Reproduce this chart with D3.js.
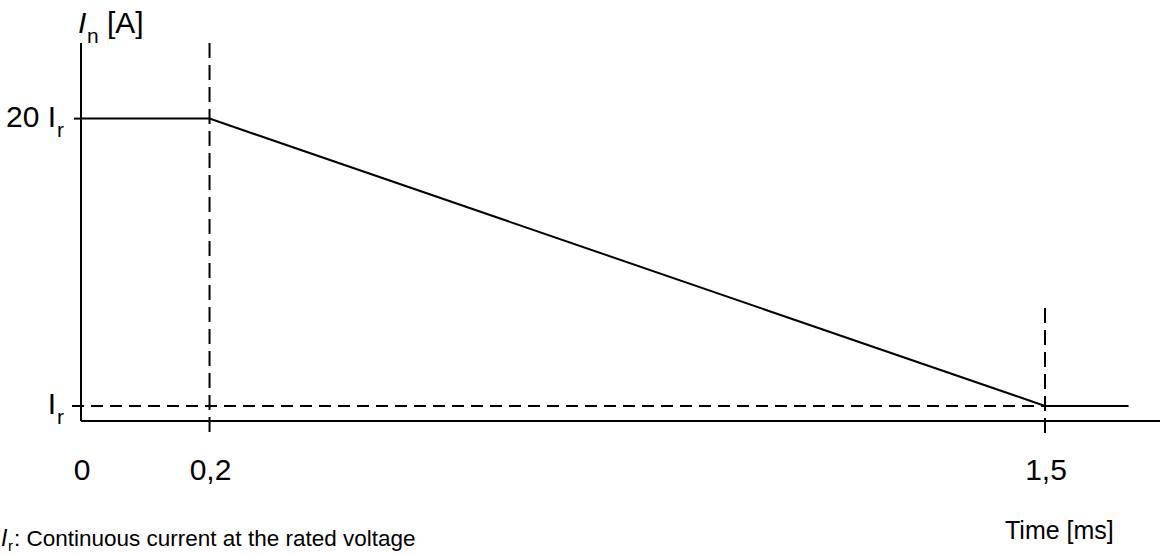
<!DOCTYPE html>
<html><head><meta charset="utf-8">
<script src="https://cdn.jsdelivr.net/npm/d3@7"></script>
<style>body{margin:0;background:#fff}svg{display:block}text{font-family:"Liberation Sans",Arial,sans-serif;fill:#000}</style>
</head><body>
<script>
// data
const times = [0, 0.2, 1.5, 1.63];
const currents = [20, 20, 1, 1];
const xTickValues = [0, 0.2, 1.5];
const xTickLabels = ["0", "0,2", "1,5"];
const yTickValues = [20, 1];
const yTickPrefix = ["20 I", "I"];
const yTickSub = ["r", "r"];

const W = 1160, H = 556;
const svg = d3.select("body").append("svg").attr("width", W).attr("height", H);
const x = d3.scaleLinear().domain([0, 1.5]).range([81, 1045]);
const y = d3.scaleLinear().domain([0, 25]).range([421, 43]);

const g = svg.append("g");
// axes lines
g.append("line").attr("x1", x(0)).attr("x2", x(0)).attr("y1", y(25)).attr("y2", y(0)).attr("stroke", "#000").attr("stroke-width", 2);
g.append("line").attr("x1", x(0)).attr("x2", W).attr("y1", y(0)).attr("y2", y(0)).attr("stroke", "#000").attr("stroke-width", 2);

// dashed verticals
g.append("line").attr("x1", x(0.2)).attr("x2", x(0.2)).attr("y1", y(25)).attr("y2", y(0) + 12)
  .attr("stroke", "#000").attr("stroke-width", 2).attr("stroke-dasharray", "15,7");
g.append("line").attr("x1", x(1.5)).attr("x2", x(1.5)).attr("y1", y(0) + 12).attr("y2", y(7.7))
  .attr("stroke", "#000").attr("stroke-width", 2).attr("stroke-dasharray", "15,7");
// dashed horizontal at Ir
g.append("line").attr("x1", x(0) - 9).attr("x2", x(1.5)).attr("y1", y(1)).attr("y2", y(1))
  .attr("stroke", "#000").attr("stroke-width", 2).attr("stroke-dasharray", "12,7");
// tick at 20 Ir
g.append("line").attr("x1", x(0) - 7).attr("x2", x(0)).attr("y1", y(20)).attr("y2", y(20)).attr("stroke", "#000").attr("stroke-width", 2);

// curve
const line = d3.line().x((d, i) => x(times[i])).y((d, i) => y(currents[i]));
g.append("path").datum(currents).attr("d", line).attr("fill", "none").attr("stroke", "#000").attr("stroke-width", 2);

// x tick labels
g.selectAll(".xt").data(xTickValues).enter().append("text")
  .attr("x", d => x(d) + 1).attr("y", 480).attr("text-anchor", "middle").attr("font-size", 30)
  .text((d, i) => xTickLabels[i]);

// y tick labels
yTickValues.forEach((v, i) => {
  g.append("text").attr("x", 56).attr("y", y(v) + 8).attr("text-anchor", "end").attr("font-size", 30).text(yTickPrefix[i]);
  g.append("text").attr("x", 57).attr("y", y(v) + 18).attr("font-size", 21).text(yTickSub[i]);
});

// y axis title
g.append("text").attr("x", 78).attr("y", 33).attr("font-size", 30).attr("font-style", "italic").text("I");
g.append("text").attr("x", 87).attr("y", 43).attr("font-size", 21).text("n");
g.append("text").attr("x", 107).attr("y", 33).attr("font-size", 30).text("[A]");

// x axis title
g.append("text").attr("x", 1005).attr("y", 539).attr("font-size", 25).text("Time [ms]");

// note
g.append("text").attr("x", 1).attr("y", 546).attr("font-size", 23).attr("font-style", "italic").text("I");
g.append("text").attr("x", 8).attr("y", 551).attr("font-size", 15).text("r");
g.append("text").attr("x", 14).attr("y", 546).attr("font-size", 22.5).text(": Continuous current at the rated voltage");
</script>
</body></html>
